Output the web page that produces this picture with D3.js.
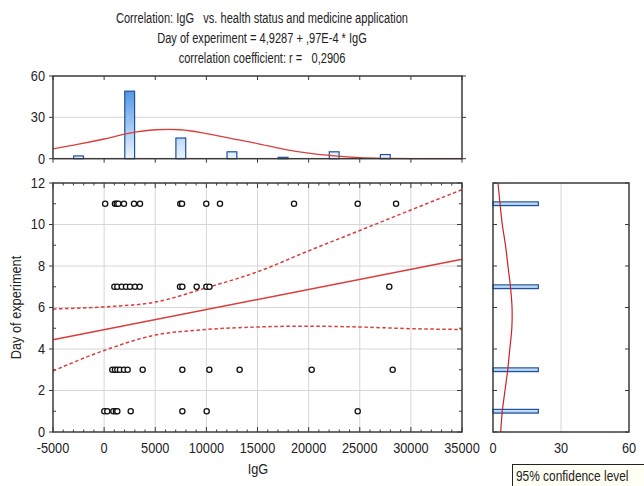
<!DOCTYPE html>
<html>
<head>
<meta charset="utf-8">
<script src="https://cdn.jsdelivr.net/npm/d3@7"></script>
<style>
  body { margin: 0; background: #fff; }
  text { font-family: "Liberation Sans", Arial, sans-serif; fill: #222; }
</style>
</head>
<body>
<div id="chart"></div>
<script>
// scatter points, one array per day row (IgG values)
var day11 = [100, 1060, 1230, 1390, 1940, 2920, 3510, 7450, 7620, 9990, 11330, 18570, 24800, 28550];
var day7 = [1000, 1290, 1720, 2140, 2530, 3020, 3480, 7420, 7650, 9050, 10000, 10300, 27890];
var day3 = [800, 1060, 1290, 1550, 1940, 2300, 3770, 7650, 10290, 13250, 20300, 28220];
var day1 = [20, 310, 900, 1160, 1290, 2600, 7650, 10030, 24800];

// regression from the title
var intercept = 4.9287;
var slope = 0.97e-4;

// 95% confidence band, read at every 5000
var bandX = [-5000, 0, 5000, 10000, 15000, 20000, 25000, 30000, 35000];
var bandUpper = [5.93, 6.03, 6.26, 6.95, 7.72, 8.73, 9.71, 10.70, 11.68];
var bandLower = [2.94, 3.93, 4.67, 4.94, 5.06, 5.10, 5.06, 4.98, 4.94];

// top histogram (IgG)
var topBins = [-2500, 2500, 7500, 12500, 17500, 22500, 27500];
var topCounts = [2, 49, 15, 5, 1, 5, 3];
var topCurveX = [-5000, -2500, 0, 2500, 5000, 7500, 10000, 12500, 15000, 17500, 20000, 22500, 25000, 27500, 30000, 32500, 35000];
var topCurveY = [7.2, 10.5, 14.3, 18.6, 21.0, 21.0, 18.2, 14.6, 11.0, 7.0, 4.0, 2.0, 0.7, 0.2, 0, 0, 0];

// right histogram (day of experiment)
var rightBins = [1, 3, 7, 11];
var rightCounts = [20, 20, 20, 20];
var rightCurveDay = [0, 1, 2, 3, 4, 5, 6, 7, 8, 9, 10, 11, 12];
var rightCurveCount = [3.4, 4.1, 5.3, 6.5, 7.4, 8.3, 8.4, 7.7, 6.6, 5.5, 4.1, 3.1, 2.2];

// tick values
var xTicks = [-5000, 0, 5000, 10000, 15000, 20000, 25000, 30000, 35000];
var yTicks = [0, 2, 4, 6, 8, 10, 12];
var topTicks = [0, 30, 60];
var rightTicks = [0, 30, 60];

var titleLines = [
    "Correlation: IgG   vs. health status and medicine application",
    "Day of experiment = 4,9287 + ,97E-4 * IgG",
    "correlation coefficient: r =   0,2906"
];

var W = 644, H = 486;
var svg = d3.select("#chart").append("svg").attr("width", W).attr("height", H);

var x = d3.scaleLinear().domain([-5000, 35000]).range([53, 462]);
var y = d3.scaleLinear().domain([0, 12]).range([432, 183]);
var yTop = d3.scaleLinear().domain([0, 60]).range([158.7, 76]);
var xRight = d3.scaleLinear().domain([0, 60]).range([493, 629]);

var frameColor = "#3a3a3a", gridColor = "#d6d6d6", red = "#dc3c3c";

// the original uses a narrow font, we squeeze the glyphs instead
function narrow(sel, k) {
    sel.each(function () {
        var w = this.getComputedTextLength();
        d3.select(this).attr("textLength", w * k).attr("lengthAdjust", "spacingAndGlyphs");
    });
}

// gradients for the bars
var defs = svg.append("defs");
var gTop = defs.append("linearGradient").attr("id", "gTop")
    .attr("gradientUnits", "userSpaceOnUse").attr("x1", 0).attr("x2", 0).attr("y1", 76).attr("y2", 159);
gTop.append("stop").attr("offset", "0%").attr("stop-color", "#2f84e2");
gTop.append("stop").attr("offset", "100%").attr("stop-color", "#eef5fd");
var gRight = defs.append("linearGradient").attr("id", "gRight")
    .attr("x1", 0).attr("x2", 0).attr("y1", 0).attr("y2", 1);
gRight.append("stop").attr("offset", "0%").attr("stop-color", "#e4f0fc");
gRight.append("stop").attr("offset", "100%").attr("stop-color", "#8fc0f2");

// title
svg.append("g").selectAll("text").data(titleLines).enter().append("text")
    .attr("class", "title")
    .attr("x", 262).attr("y", function (d, i) { return 23 + i * 20; })
    .attr("text-anchor", "middle").attr("font-size", 14)
    .style("white-space", "pre")
    .text(function (d) { return d; });

// ---------- main scatter plot ----------
var main = svg.append("g");
main.selectAll(".gx").data(xTicks.slice(1, -1)).enter().append("line")
    .attr("x1", function (d) { return x(d); }).attr("x2", function (d) { return x(d); })
    .attr("y1", y(0)).attr("y2", y(12)).attr("stroke", gridColor);
main.selectAll(".gy").data(yTicks.slice(1, -1)).enter().append("line")
    .attr("x1", x(-5000)).attr("x2", x(35000))
    .attr("y1", function (d) { return y(d); }).attr("y2", function (d) { return y(d); })
    .attr("stroke", gridColor);

// minor ticks inside the frame (every 1000 / every 1 day)
var minorX = d3.range(-5000, 35001, 1000);
var minorY = d3.range(0, 13, 1);
minorX.forEach(function (v) {
    var len = v % 5000 === 0 ? 5 : 2.5;
    main.append("line").attr("x1", x(v)).attr("x2", x(v)).attr("y1", y(12)).attr("y2", y(12) + len).attr("stroke", frameColor);
    main.append("line").attr("x1", x(v)).attr("x2", x(v)).attr("y1", y(0)).attr("y2", y(0) - len).attr("stroke", frameColor);
});
minorY.forEach(function (v) {
    var len = v % 2 === 0 ? 5 : 3;
    main.append("line").attr("x1", x(35000)).attr("x2", x(35000) - len).attr("y1", y(v)).attr("y2", y(v)).attr("stroke", frameColor);
    main.append("line").attr("x1", x(-5000)).attr("x2", x(-5000) + (v % 2 === 0 ? 0 : 3)).attr("y1", y(v)).attr("y2", y(v)).attr("stroke", frameColor);
});

// confidence band and regression line
var bandLine = d3.line().curve(d3.curveMonotoneX);
main.append("path")
    .attr("d", bandLine(bandX.map(function (v, i) { return [x(v), y(bandUpper[i])]; })))
    .attr("fill", "none").attr("stroke", red).attr("stroke-width", 1.5).attr("stroke-dasharray", "3.5,2.5");
main.append("path")
    .attr("d", bandLine(bandX.map(function (v, i) { return [x(v), y(bandLower[i])]; })))
    .attr("fill", "none").attr("stroke", red).attr("stroke-width", 1.5).attr("stroke-dasharray", "3.5,2.5");
main.append("line")
    .attr("x1", x(-5000)).attr("y1", y(intercept + slope * -5000))
    .attr("x2", x(35000)).attr("y2", y(intercept + slope * 35000))
    .attr("stroke", red).attr("stroke-width", 1.5);

// points
var points = [];
[[11, day11], [7, day7], [3, day3], [1, day1]].forEach(function (row) {
    row[1].forEach(function (v) { points.push({ igg: v, day: row[0] }); });
});
main.selectAll("circle").data(points).enter().append("circle")
    .attr("cx", function (d) { return x(d.igg); })
    .attr("cy", function (d) { return y(d.day); })
    .attr("r", 2.6).attr("fill", "#fff").attr("stroke", "#111").attr("stroke-width", 1.3);

main.append("rect").attr("x", x(-5000)).attr("y", y(12))
    .attr("width", x(35000) - x(-5000)).attr("height", y(0) - y(12))
    .attr("fill", "none").attr("stroke", frameColor).attr("stroke-width", 1.5);

// axes labels
main.selectAll(".xl").data(xTicks).enter().append("text")
    .attr("class", "tick")
    .attr("x", function (d) { return x(d); }).attr("y", 453)
    .attr("text-anchor", "middle").attr("font-size", 15)
    .text(function (d) { return d; });
main.selectAll(".yl").data(yTicks).enter().append("text")
    .attr("class", "tick")
    .attr("x", 45).attr("y", function (d) { return y(d) + 4.5; })
    .attr("text-anchor", "end").attr("font-size", 15)
    .text(function (d) { return d; });
main.selectAll(".ytk").data(yTicks).enter().append("line")
    .attr("x1", x(-5000) - 4).attr("x2", x(-5000))
    .attr("y1", function (d) { return y(d); }).attr("y2", function (d) { return y(d); })
    .attr("stroke", frameColor);
main.append("text").attr("class", "tick").attr("x", 258).attr("y", 474).attr("text-anchor", "middle")
    .attr("font-size", 15).text("IgG");
main.append("text").attr("class", "tick").attr("transform", "translate(21," + ((y(0) + y(12)) / 2) + ") rotate(-90)")
    .attr("text-anchor", "middle").attr("font-size", 15).text("Day of experiment");

// ---------- top histogram ----------
var topG = svg.append("g");
topG.append("line").attr("x1", x(-5000)).attr("x2", x(35000))
    .attr("y1", yTop(30)).attr("y2", yTop(30)).attr("stroke", gridColor);
topG.selectAll("rect.bar").data(topBins).enter().append("rect")
    .attr("class", "bar")
    .attr("x", function (d) { return x(d - 480); })
    .attr("width", function (d) { return x(d + 480) - x(d - 480); })
    .attr("y", function (d, i) { return yTop(topCounts[i]); })
    .attr("height", function (d, i) { return yTop(0) - yTop(topCounts[i]); })
    .attr("fill", "url(#gTop)").attr("stroke", "#1f4f9a").attr("stroke-width", 1.2);
topG.append("path")
    .attr("d", d3.line().curve(d3.curveCatmullRom)(topCurveX.map(function (v, i) { return [x(v), yTop(topCurveY[i])]; })))
    .attr("fill", "none").attr("stroke", red).attr("stroke-width", 1.3);
xTicks.forEach(function (v) {
    topG.append("line").attr("x1", x(v)).attr("x2", x(v)).attr("y1", yTop(60)).attr("y2", yTop(60) + 4).attr("stroke", frameColor);
    topG.append("line").attr("x1", x(v)).attr("x2", x(v)).attr("y1", yTop(0)).attr("y2", yTop(0) + 4).attr("stroke", frameColor);
});
topG.append("rect").attr("x", x(-5000)).attr("y", yTop(60))
    .attr("width", x(35000) - x(-5000)).attr("height", yTop(0) - yTop(60))
    .attr("fill", "none").attr("stroke", frameColor).attr("stroke-width", 1.5);
topG.selectAll(".tl").data(topTicks).enter().append("text")
    .attr("class", "tick")
    .attr("x", 45).attr("y", function (d) { return yTop(d) + 5; })
    .attr("text-anchor", "end").attr("font-size", 15)
    .text(function (d) { return d; });
topTicks.forEach(function (v) {
    topG.append("line").attr("x1", x(-5000) - 4).attr("x2", x(-5000)).attr("y1", yTop(v)).attr("y2", yTop(v)).attr("stroke", frameColor);
    topG.append("line").attr("x1", x(35000)).attr("x2", x(35000) + 4).attr("y1", yTop(v)).attr("y2", yTop(v)).attr("stroke", frameColor);
});

// ---------- right histogram ----------
var rightG = svg.append("g");
rightG.append("line").attr("x1", xRight(30)).attr("x2", xRight(30))
    .attr("y1", y(0)).attr("y2", y(12)).attr("stroke", gridColor);
rightG.selectAll("rect.bar").data(rightBins).enter().append("rect")
    .attr("class", "bar")
    .attr("x", xRight(0))
    .attr("y", function (d) { return y(d + 0.09); })
    .attr("width", function (d, i) { return xRight(rightCounts[i]) - xRight(0); })
    .attr("height", function (d) { return y(d - 0.09) - y(d + 0.09); })
    .attr("fill", "url(#gRight)").attr("stroke", "#1f4f9a").attr("stroke-width", 1.2);
rightG.append("path")
    .attr("d", d3.line().curve(d3.curveCatmullRom)(rightCurveDay.map(function (v, i) { return [xRight(rightCurveCount[i]), y(v)]; })))
    .attr("fill", "none").attr("stroke", "#cc2222").attr("stroke-width", 1.2);
yTicks.forEach(function (v) {
    rightG.append("line").attr("x1", xRight(0)).attr("x2", xRight(0) + 4).attr("y1", y(v)).attr("y2", y(v)).attr("stroke", frameColor);
    rightG.append("line").attr("x1", xRight(60)).attr("x2", xRight(60) - 4).attr("y1", y(v)).attr("y2", y(v)).attr("stroke", frameColor);
});
rightG.append("rect").attr("x", xRight(0)).attr("y", y(12))
    .attr("width", xRight(60) - xRight(0)).attr("height", y(0) - y(12))
    .attr("fill", "none").attr("stroke", frameColor).attr("stroke-width", 1.5);
rightG.selectAll(".rl").data(rightTicks).enter().append("text")
    .attr("class", "tick")
    .attr("x", function (d) { return xRight(d); }).attr("y", 453)
    .attr("text-anchor", "middle").attr("font-size", 15)
    .text(function (d) { return d; });

// legend box, cut by the right edge as in the original
svg.append("rect").attr("x", 512.5).attr("y", 464.5).attr("width", 140).attr("height", 30)
    .attr("fill", "#fffff4").attr("stroke", "#222").attr("stroke-width", 1);
svg.append("text").attr("class", "tick").attr("x", 516).attr("y", 481).attr("font-size", 14).text("95% confidence level");

narrow(svg.selectAll("text.title"), 0.79);
narrow(svg.selectAll("text.tick"), 0.85);
</script>
</body>
</html>
